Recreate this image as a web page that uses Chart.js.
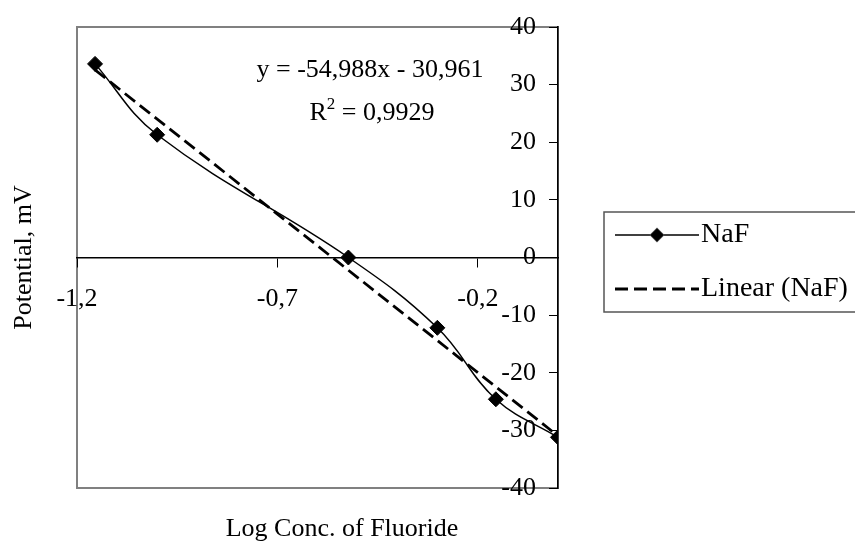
<!DOCTYPE html>
<html>
<head>
<meta charset="utf-8">
<title>Potential vs Log Conc. of Fluoride</title>
<script src="https://cdn.jsdelivr.net/npm/chart.js@4.4.1/dist/chart.umd.min.js"></script>
<style>
  html, body { margin: 0; padding: 0; background: #fff; }
  #wrap { width: 855px; height: 554px; }
</style>
</head>
<body>
<div id="wrap"><canvas id="chart" width="855" height="554"></canvas></div>
<script>
// valores
const logConc = [-1.155, -1.0, -0.523, -0.301, -0.155, 0];
const potential = [33.6, 21.3, 0, -12.2, -24.6, -31.2];
const xTicks = [-1.2, -0.7, -0.2];
const yTicks = [-40, -30, -20, -10, 0, 10, 20, 30, 40];
// línea de tendencia tal como la da la ecuación del gráfico
const slope = -54.988;
const intercept = -30.961;
const eqText = 'y = -54,988x - 30,961';
const r2Value = '0,9929';

const FONT = "'Liberation Serif', 'Times New Roman', serif";
const FS = 26;
const LEG_FS = 28;

// marco gris del área de trazado
const framePlugin = {
  id: 'frame',
  beforeDraw(chart) {
    const { ctx, chartArea: a } = chart;
    ctx.save();
    ctx.strokeStyle = '#808080';
    ctx.lineWidth = 2;
    ctx.strokeRect(a.left, a.top, a.right - a.left, a.bottom - a.top);
    ctx.restore();
  }
};

// etiquetas del eje Y a la izquierda de la línea del eje, ecuación, títulos y leyenda
const textPlugin = {
  id: 'texts',
  afterDraw(chart) {
    const { ctx, chartArea: a } = chart;
    const xs = chart.scales.x, ys = chart.scales.y;
    ctx.save();
    ctx.fillStyle = '#000';
    ctx.font = FS + 'px ' + FONT;
    ctx.textBaseline = 'middle';

    // etiquetas Y
    ctx.textAlign = 'right';
    const axisX = xs.getPixelForValue(0);
    ys.ticks.forEach(t => {
      ctx.fillText(String(t.value), axisX - 22, ys.getPixelForValue(t.value));
    });

    // ecuación
    ctx.textAlign = 'center';
    ctx.fillText(eqText, 370, 70);
    const rest = ' = ' + r2Value;
    const wR = ctx.measureText('R').width;
    const wRest = ctx.measureText(rest).width;
    ctx.font = Math.round(FS * 0.65) + 'px ' + FONT;
    const w2 = ctx.measureText('2').width;
    const total = wR + w2 + wRest;
    const x0 = 372 - total / 2;
    ctx.textAlign = 'left';
    ctx.fillText('2', x0 + wR, 105);
    ctx.font = FS + 'px ' + FONT;
    ctx.fillText('R', x0, 113);
    ctx.fillText(rest, x0 + wR + w2, 113);

    // títulos de ejes
    ctx.textAlign = 'center';
    ctx.fillText('Log Conc. of Fluoride', 342, 529);
    ctx.save();
    ctx.translate(24, (a.top + a.bottom) / 2);
    ctx.rotate(-Math.PI / 2);
    ctx.fillText('Potential, mV', 0, 0);
    ctx.restore();

    // leyenda
    const lx = 604, ly = 212, lw = 260, lh = 100;
    ctx.strokeStyle = '#555';
    ctx.lineWidth = 1.5;
    ctx.strokeRect(lx, ly, lw, lh);
    const rows = [235, 289];
    ctx.font = LEG_FS + 'px ' + FONT;
    chart.data.datasets.forEach((ds, i) => {
      const y = rows[i];
      ctx.save();
      ctx.strokeStyle = ds.borderColor;
      ctx.lineWidth = ds.borderWidth;
      ctx.setLineDash(ds.borderDash || []);
      ctx.beginPath();
      ctx.moveTo(615, y);
      ctx.lineTo(699, y);
      ctx.stroke();
      ctx.restore();
      if (ds.pointRadius > 0) {
        Chart.helpers.drawPoint(ctx, {
          pointStyle: ds.pointStyle, radius: ds.pointRadius - 1, rotation: 0, borderWidth: 1
        }, 657, y);
        ctx.fillStyle = '#000';
        ctx.fill();
      }
      ctx.fillStyle = '#000';
      ctx.textAlign = 'left';
      ctx.fillText(ds.label, 701, y);
    });
    ctx.restore();
  }
};

const ctx = document.getElementById('chart');
const chart = new Chart(ctx, {
  type: 'line',
  data: {
    datasets: [
      {
        label: 'NaF',
        data: logConc.map((x, i) => ({ x: x, y: potential[i] })),
        borderColor: '#000',
        backgroundColor: '#000',
        borderWidth: 1.5,
        pointStyle: 'rectRot',
        pointRadius: 7.5,
        pointHoverRadius: 7.5,
        pointBorderWidth: 1,
        tension: 0.4,
        fill: false
      },
      {
        label: 'Linear (NaF)',
        data: [logConc[0], logConc[logConc.length - 1]].map(x => ({ x: x, y: slope * x + intercept })),
        borderColor: '#000',
        borderWidth: 2.8,
        borderDash: [13, 6],
        pointRadius: 0,
        tension: 0,
        fill: false
      }
    ]
  },
  options: {
    responsive: false,
    animation: false,
    devicePixelRatio: 1,
    layout: { padding: { left: 77, top: 27, right: 297, bottom: 66 } },
    plugins: {
      legend: { display: false },
      tooltip: { enabled: false }
    },
    scales: {
      x: {
        type: 'linear',
        position: { y: 0 },
        min: -1.2,
        max: 0,
        afterBuildTicks: s => { s.ticks = xTicks.map(v => ({ value: v })); },
        grid: { drawOnChartArea: false, drawTicks: true, tickLength: 9, color: '#000' },
        border: { display: true, color: '#000', width: 1.5 },
        ticks: {
          autoSkip: false,
          maxRotation: 0,
          color: '#000',
          font: { family: FONT, size: FS },
          padding: 17,
          callback: v => v.toFixed(1).replace('.', ',')
        }
      },
      y: {
        type: 'linear',
        position: { x: 0 },
        min: -40,
        max: 40,
        afterBuildTicks: s => { s.ticks = yTicks.map(v => ({ value: v })); },
        grid: { drawOnChartArea: false, drawTicks: true, tickLength: 8, color: '#000' },
        border: { display: true, color: '#000', width: 1.5 },
        ticks: { display: false }
      }
    }
  },
  plugins: [framePlugin, textPlugin]
});
</script>
</body>
</html>
